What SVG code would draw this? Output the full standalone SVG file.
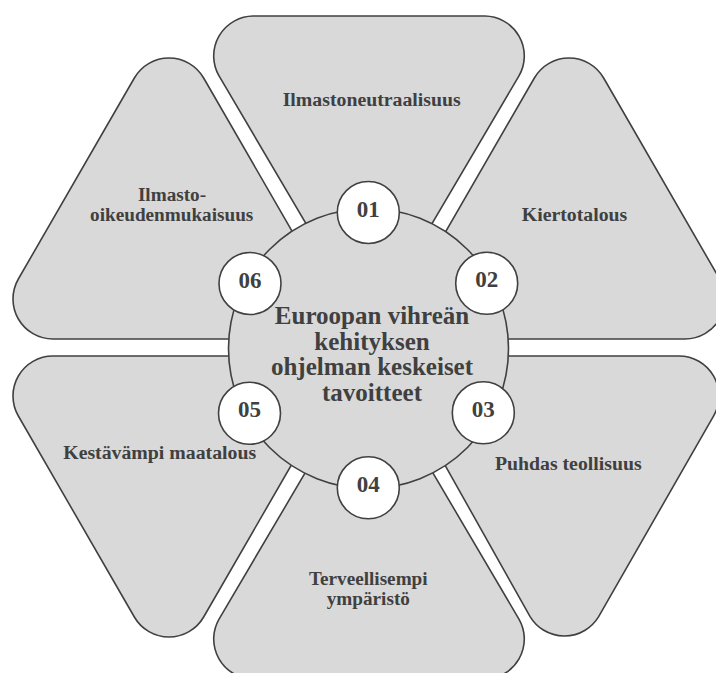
<svg xmlns="http://www.w3.org/2000/svg" width="716" height="673" viewBox="0 0 716 673">
<style>
.seg{fill:#d9d9d9;stroke:#404040;stroke-width:1.6}
.hub{fill:#d9d9d9;stroke:#404040;stroke-width:1.6}
.num{fill:#ffffff;stroke:#404040;stroke-width:1.6}
text{font-family:"Liberation Serif","Times New Roman",serif;font-weight:bold;fill:#404040;text-anchor:middle}
.lbl{font-size:19.8px}
.lbl2{font-size:19.2px}
.n{font-size:23px}
.c{font-size:25px}
</style>
<rect width="716" height="673" fill="#ffffff"/>
<g id="seg-top">
<path class="seg" d="M253,16 L485,16 A40,40 0 0 1 519.1,75.7 L404.2,270.8 A40,40 0 0 1 333.8,270.8 L218.9,75.7 A40,40 0 0 1 253,16 Z"/>
<text class="lbl" x="371.7" y="106">Ilmastoneutraalisuus</text>
</g>
<g id="seg-upper-right">
<path class="seg" d="M719.65,279 L603.65,78 A40,40 0 0 0 534.35,78 L418.35,279 A40,40 0 0 0 453,339 L685,339 A40,40 0 0 0 719.65,279 Z"/>
<text class="lbl" x="574.5" y="221">Kiertotalous</text>
</g>
<g id="seg-lower-right">
<path class="seg" d="M453,356 L678.7,356 A40,40 0 0 1 713.5,416.1 L598.5,616.9 A40,40 0 0 1 530.1,616.6 L417.6,416.4 A40,40 0 0 1 453,356 Z"/>
<text class="lbl" x="568.3" y="470">Puhdas teollisuus</text>
</g>
<g id="seg-bottom">
<path class="seg" d="M253,679 L485,679 A40,40 0 0 0 519.1,619.3 L404.2,424.2 A40,40 0 0 0 333.8,424.2 L218.9,619.3 A40,40 0 0 0 253,679 Z"/>
<text class="lbl2" x="368.3" y="585">Terveellisempi</text>
<text class="lbl2" x="368.3" y="605">ympäristö</text>
</g>
<g id="seg-lower-left">
<path class="seg" d="M18.35,416 L134.35,617 A40,40 0 0 0 203.65,617 L319.65,416 A40,40 0 0 0 285,356 L53,356 A40,40 0 0 0 18.35,416 Z"/>
<text class="lbl" x="159.7" y="459.3">Kestävämpi maatalous</text>
</g>
<g id="seg-upper-left">
<path class="seg" d="M18.35,279 L134.35,78 A40,40 0 0 1 203.65,78 L319.65,279 A40,40 0 0 1 285,339 L53,339 A40,40 0 0 1 18.35,279 Z"/>
<text class="lbl2" x="172" y="200.5">Ilmasto-</text>
<text class="lbl2" x="171.7" y="220.5">oikeudenmukaisuus</text>
</g>
<g id="hub">
<circle class="hub" cx="368.5" cy="348.5" r="140"/>
<text class="c" x="372" y="324">Euroopan vihreän</text>
<text class="c" x="372" y="349.5">kehityksen</text>
<text class="c" x="372" y="375">ohjelman keskeiset</text>
<text class="c" x="372" y="401">tavoitteet</text>
</g>
<g id="n01"><circle class="num" cx="368.3" cy="212.5" r="31"/><text class="n" x="368.3" y="216.5">01</text></g>
<g id="n02"><circle class="num" cx="486.7" cy="283.3" r="31"/><text class="n" x="486.7" y="287.3">02</text></g>
<g id="n03"><circle class="num" cx="483.3" cy="412.8" r="31"/><text class="n" x="483.3" y="416.8">03</text></g>
<g id="n04"><circle class="num" cx="368.3" cy="487.8" r="31"/><text class="n" x="368.3" y="491.8">04</text></g>
<g id="n05"><circle class="num" cx="249.5" cy="413.3" r="31"/><text class="n" x="249.5" y="417.3">05</text></g>
<g id="n06"><circle class="num" cx="250" cy="283.5" r="31"/><text class="n" x="250" y="287.5">06</text></g>
</svg>
